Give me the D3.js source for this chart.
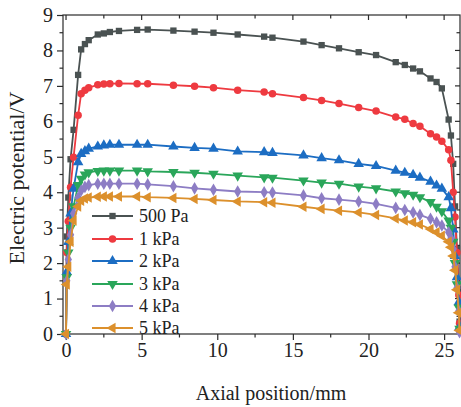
<!DOCTYPE html>
<html>
<head>
<meta charset="utf-8">
<script src="https://cdn.jsdelivr.net/npm/d3@7"></script>
<style>
  html, body { margin: 0; padding: 0; background: #fff; }
  svg { display: block; }
</style>
</head>
<body>
<svg id="chart" width="461" height="407"></svg>
<script>
// Axial positions (mm) shared by all series
const positions = [
  0, 0.05, 0.15, 0.3, 0.5, 0.8, 1.0, 1.25, 1.5, 2.1, 2.5, 2.9, 3.5, 4.7, 5.4, 7.1, 8.5, 9.75, 11.35,
  13.1, 13.65, 15.7, 16.9, 18.05, 19.35, 20.5, 21.8, 22.4, 22.95, 23.4, 24.1, 24.5, 24.85,
  25.3, 25.45, 25.6, 25.72, 25.85, 25.97, 26.02
];

// Electric potential (V) at each position, one array per pressure
const pa500 = [
  0, 2.75, 3.85, 4.93, 5.76, 7.31, 8.03, 8.18, 8.29, 8.45, 8.48, 8.52, 8.55, 8.58, 8.59, 8.56, 8.53, 8.50, 8.45,
  8.39, 8.36, 8.25, 8.15, 8.06, 7.95, 7.87, 7.67, 7.59, 7.49, 7.41, 7.21, 7.11, 6.93,
  6.05, 5.6, 4.8, 3.6, 2.4, 1.25, 0.35
];
const kpa1 = [
  0, 2.3, 3.18, 4.14, 4.99, 6.17, 6.78, 6.88, 6.95, 7.03, 7.05, 7.06, 7.07, 7.06, 7.06, 7.02, 6.99, 6.95, 6.88,
  6.83, 6.78, 6.67, 6.59, 6.50, 6.39, 6.29, 6.12, 6.06, 5.94, 5.86, 5.65, 5.56, 5.44,
  5.2, 4.9, 4.0, 3.3, 2.3, 1.1, 0.3
];
const kpa2 = [
  0, 1.75, 2.6, 3.4, 4.1, 4.85, 5.08, 5.16, 5.23, 5.29, 5.32, 5.34, 5.34, 5.34, 5.34, 5.29, 5.25, 5.23, 5.15,
  5.13, 5.11, 5.04, 4.96, 4.90, 4.80, 4.74, 4.61, 4.55, 4.49, 4.41, 4.30, 4.19, 4.10,
  3.86, 3.55, 2.95, 2.2, 1.6, 0.9, 0.2
];
const kpa3 = [
  0, 1.6, 2.3, 3.0, 3.6, 4.2, 4.38, 4.50, 4.56, 4.60, 4.61, 4.61, 4.61, 4.61, 4.59, 4.57, 4.55, 4.52, 4.47,
  4.42, 4.41, 4.33, 4.27, 4.24, 4.16, 4.11, 4.02, 3.97, 3.93, 3.86, 3.72, 3.59, 3.46,
  3.20, 3.0, 2.6, 2.0, 1.4, 0.75, 0.15
];
const kpa4 = [
  0, 1.5, 2.1, 2.8, 3.4, 3.85, 4.05, 4.15, 4.20, 4.24, 4.24, 4.24, 4.24, 4.24, 4.22, 4.17, 4.11, 4.07, 4.02,
  4.00, 3.99, 3.91, 3.83, 3.79, 3.74, 3.67, 3.56, 3.50, 3.43, 3.36, 3.25, 3.15, 3.06,
  2.87, 2.7, 2.4, 1.9, 1.3, 0.65, 0.05
];
const kpa5 = [
  0, 1.4, 1.9, 2.6, 3.2, 3.6, 3.76, 3.82, 3.85, 3.87, 3.88, 3.88, 3.88, 3.88, 3.86, 3.84, 3.81, 3.78, 3.74,
  3.72, 3.70, 3.59, 3.53, 3.48, 3.43, 3.36, 3.26, 3.20, 3.15, 3.09, 2.96, 2.87, 2.77,
  2.6, 2.45, 2.2, 1.8, 1.25, 0.6, 0.1
];

const seriesNames = ["500 Pa", "1 kPa", "2 kPa", "3 kPa", "4 kPa", "5 kPa"];
const seriesValues = [pa500, kpa1, kpa2, kpa3, kpa4, kpa5];
const seriesColors = ["#4a5252", "#ee3a40", "#1c6dc3", "#2aa65a", "#8d7dc4", "#dc902c"];

const xTicks = [0, 5, 10, 15, 20, 25];
const yTicks = [0, 1, 2, 3, 4, 5, 6, 7, 8, 9];

const serif = "'Liberation Serif', 'Times New Roman', serif";
const svg = d3.select("#chart");
const plotLeft = 63, plotRight = 460, plotTop = 15, plotBottom = 334;

const x = d3.scaleLinear().domain([-0.2, 26.05]).range([plotLeft, plotRight]);
const y = d3.scaleLinear().domain([0, 9]).range([plotBottom, plotTop]);

// marker shapes: square, circle, up, down, diamond, left
const symbols = [
  { type: d3.symbolSquare, size: 40, rot: 0 },
  { type: d3.symbolCircle, size: 44, rot: 0 },
  { type: d3.symbolTriangle, size: 48, rot: 0 },
  { type: d3.symbolTriangle, size: 48, rot: 180 },
  { type: d3.symbolDiamond, size: 46, rot: 0 },
  { type: d3.symbolTriangle, size: 48, rot: -90 }
];

const axisColor = "#2b2b2b";

// frame
svg.append("rect")
  .attr("x", plotLeft).attr("y", plotTop)
  .attr("width", plotRight - plotLeft).attr("height", plotBottom - plotTop)
  .attr("fill", "none").attr("stroke", axisColor).attr("stroke-width", 1.2);

// bottom axis (outward ticks)
const xAxis = d3.axisBottom(x).tickValues(xTicks).tickSize(6).tickPadding(3).tickFormat(d3.format("d"));
const gx = svg.append("g").attr("transform", `translate(0,${plotBottom})`).call(xAxis);
gx.select(".domain").remove();
gx.attr("font-family", serif).attr("font-size", 20);
gx.selectAll("line").attr("stroke", axisColor).attr("stroke-width", 1.2);
gx.selectAll("text").attr("fill", "#222");
const xMinor = d3.range(2.5, 26, 5);
svg.append("g").selectAll("line").data(xMinor).join("line")
  .attr("x1", d => x(d)).attr("x2", d => x(d))
  .attr("y1", plotBottom).attr("y2", plotBottom + 3.5)
  .attr("stroke", axisColor).attr("stroke-width", 1.2);

// left axis (outward ticks)
const yAxis = d3.axisLeft(y).tickValues(yTicks).tickSize(6).tickPadding(4).tickFormat(d3.format("d"));
const gy = svg.append("g").attr("transform", `translate(${plotLeft},0)`).call(yAxis);
gy.select(".domain").remove();
gy.attr("font-family", serif).attr("font-size", 20);
gy.selectAll("line").attr("stroke", axisColor).attr("stroke-width", 1.2);
gy.selectAll("text").attr("fill", "#222");
const yMinor = d3.range(0.5, 9, 1);
svg.append("g").selectAll("line").data(yMinor).join("line")
  .attr("x1", plotLeft - 3.5).attr("x2", plotLeft)
  .attr("y1", d => y(d)).attr("y2", d => y(d))
  .attr("stroke", axisColor).attr("stroke-width", 1.2);

// top and right ticks (inward)
const topTicks = d3.range(0, 26, 2.5);
svg.append("g").selectAll("line").data(topTicks).join("line")
  .attr("x1", d => x(d)).attr("x2", d => x(d))
  .attr("y1", plotTop).attr("y2", d => plotTop + (d % 5 === 0 ? 5 : 3.5))
  .attr("stroke", axisColor).attr("stroke-width", 1.2);
const rightTicks = d3.range(0.5, 9, 0.5);
svg.append("g").selectAll("line").data(rightTicks).join("line")
  .attr("x1", d => plotRight - (d % 1 === 0 ? 5 : 3.5)).attr("x2", plotRight)
  .attr("y1", d => y(d)).attr("y2", d => y(d))
  .attr("stroke", axisColor).attr("stroke-width", 1.2);

// series
const line = d3.line().x(d => x(d[0])).y(d => y(d[1]));
const plot = svg.append("g");
seriesValues.forEach((vals, i) => {
  const pts = positions.map((p, j) => [p, vals[j]]);
  const g = plot.append("g");
  g.append("path").datum(pts)
    .attr("d", line).attr("fill", "none")
    .attr("stroke", seriesColors[i]).attr("stroke-width", 1.8)
    .attr("stroke-linejoin", "round");
  const s = symbols[i];
  g.selectAll("path.m").data(pts).join("path").attr("class", "m")
    .attr("d", d3.symbol().type(s.type).size(s.size))
    .attr("transform", d => `translate(${x(d[0])},${y(d[1])}) rotate(${s.rot})`)
    .attr("fill", seriesColors[i]);
});

// legend
const legendRows = [216, 239, 261, 284, 306, 328];
const legend = svg.append("g");
seriesNames.forEach((name, i) => {
  const ly = legendRows[i];
  legend.append("line")
    .attr("x1", 92).attr("x2", 133).attr("y1", ly).attr("y2", ly)
    .attr("stroke", seriesColors[i]).attr("stroke-width", 1.8);
  const s = symbols[i];
  legend.append("path")
    .attr("d", d3.symbol().type(s.type).size(s.size)())
    .attr("transform", `translate(112.5,${ly}) rotate(${s.rot})`)
    .attr("fill", seriesColors[i]);
  legend.append("text")
    .attr("x", 139).attr("y", ly + 6)
    .attr("font-family", serif)
    .attr("font-size", 18).attr("fill", "#222")
    .text(name);
});

// axis titles
svg.append("text")
  .attr("x", 271).attr("y", 400)
  .attr("text-anchor", "middle")
  .attr("font-family", serif).attr("font-size", 20).attr("fill", "#222")
  .text("Axial position/mm");
svg.append("text")
  .attr("transform", "translate(24,178) rotate(-90)")
  .attr("text-anchor", "middle")
  .attr("font-family", serif).attr("font-size", 22).attr("fill", "#222")
  .text("Electric potential/V");
</script>
</body>
</html>
